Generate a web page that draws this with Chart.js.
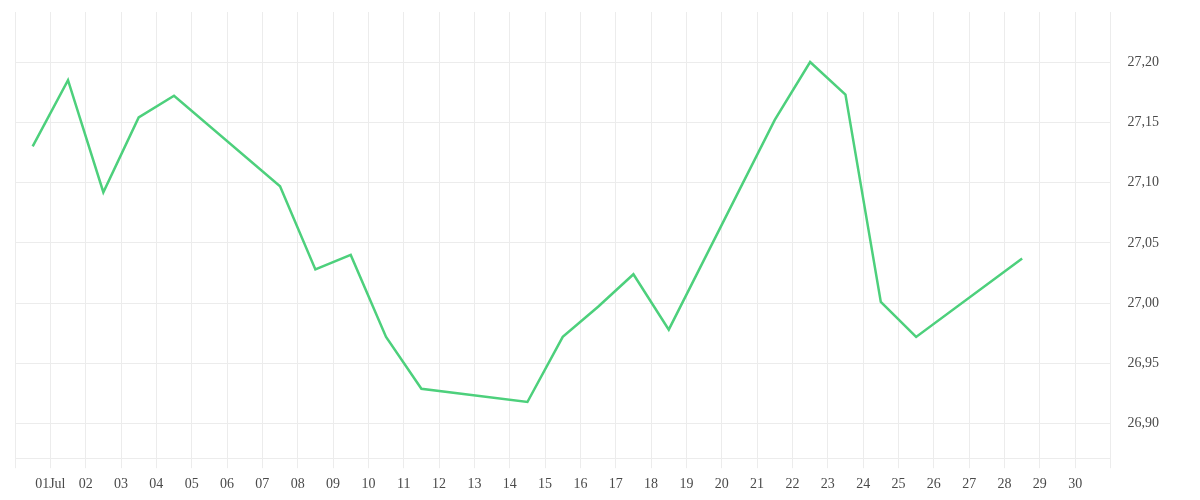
<!DOCTYPE html>
<html>
<head>
<meta charset="utf-8">
<script src="https://cdn.jsdelivr.net/npm/chart.js@4"></script>
<style>
  html, body { margin: 0; padding: 0; background: #fff; }
  #wrap { width: 1200px; height: 500px; }
</style>
</head>
<body>
<div id="wrap"><canvas id="grafico"></canvas></div>
<script>
// dia 0 = 30 jun, os pontos ficam no meio do dia
let dias = [0, 1, 2, 3, 4, 7, 8, 9, 10, 11, 14, 15, 16, 17, 18, 21, 22, 23, 24, 25, 28];
let valores = [27.130, 27.185, 27.092, 27.154, 27.172, 27.097, 27.028, 27.040, 26.972, 26.929,
  26.918, 26.972, 26.997, 27.024, 26.978, 27.152, 27.200, 27.173, 27.001, 26.972, 27.037];
let rotulosX = ["", "01Jul", "02", "03", "04", "05", "06", "07", "08", "09", "10", "11", "12", "13", "14", "15",
  "16", "17", "18", "19", "20", "21", "22", "23", "24", "25", "26", "27", "28", "29", "30", ""];
let ticksY = [26.90, 26.95, 27.00, 27.05, 27.10, 27.15, 27.20];

let corGrade = "#ececec";
let corTexto = "#4a4a4a";
let fonte = { family: "'Liberation Serif', serif", size: 14 };

let ctx = document.getElementById("grafico").getContext("2d");

let pontos = dias.map((d, i) => ({ x: d + 0.5, y: valores[i] }));

let meuGrafico = new Chart(ctx, {
  type: "line",
  data: {
    datasets: [
      {
        data: pontos,
        borderColor: "#4dd07c",
        borderWidth: 2.5,
        pointRadius: 0,
        tension: 0,
        fill: false,
      },
    ],
  },
  options: {
    responsive: true,
    maintainAspectRatio: false,
    animation: false,
    layout: { padding: { left: 15, right: 38, top: 12, bottom: -1 } },
    plugins: {
      legend: { display: false },
      tooltip: { enabled: false },
    },
    scales: {
      x: {
        type: "linear",
        min: 0,
        max: 31,
        grid: { color: corGrade, tickLength: 10, tickColor: corGrade },
        border: { color: corGrade },
        afterBuildTicks: (axis) => {
          axis.ticks = rotulosX.map((_, i) => ({ value: i }));
        },
        ticks: {
          autoSkip: false,
          maxRotation: 0,
          padding: 8,
          color: corTexto,
          font: fonte,
          callback: (v) => rotulosX[v] || "",
        },
      },
      y: {
        position: "right",
        min: 26.8714,
        max: 27.2415,
        grid: { color: corGrade, tickLength: 14, tickColor: "rgba(0,0,0,0)" },
        border: { display: false },
        afterBuildTicks: (axis) => {
          axis.ticks = ticksY.map((v) => ({ value: v }));
        },
        ticks: {
          padding: 3,
          color: corTexto,
          font: fonte,
          callback: (v) => v.toFixed(2).replace(".", ","),
        },
      },
    },
  },
});
</script>
</body>
</html>
